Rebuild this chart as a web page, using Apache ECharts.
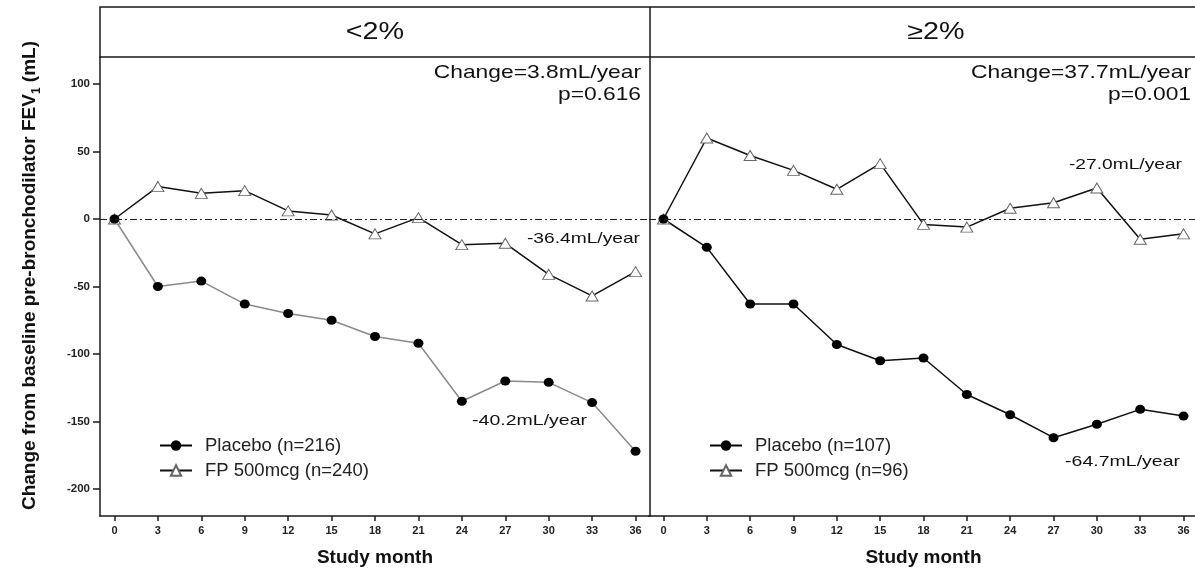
<!DOCTYPE html>
<html>
<head>
<meta charset="utf-8">
<script src="https://cdn.jsdelivr.net/npm/echarts@6/dist/echarts.min.js"></script>
<style>
html,body{margin:0;padding:0;background:#fff;}
#chart{width:1195px;height:568px;}
</style>
</head>
<body>
<div id="chart"></div>
<script>
const months = [0, 3, 6, 9, 12, 15, 18, 21, 24, 27, 30, 33, 36];
const xTicks = [0, 3, 6, 9, 12, 15, 18, 21, 24, 27, 30, 33, 36];
const yTicks = [-200, -150, -100, -50, 0, 50, 100];

const panelTitles = ['<2%', '\u22652%'];

const placeboLowName = 'Placebo (n=216)';
const fpLowName = 'FP 500mcg (n=240)';
const placeboHighName = 'Placebo (n=107)';
const fpHighName = 'FP 500mcg (n=96)';

const placeboLow = [0, -50, -46, -63, -70, -75, -87, -92, -135, -120, -121, -136, -172];
const fpLow = [0, 24, 19, 21, 6, 3, -11, 1, -19, -18, -41, -57, -39];
const placeboHigh = [0, -21, -63, -63, -93, -105, -103, -130, -145, -162, -152, -141, -146];
const fpHigh = [0, 60, 47, 36, 22, 41, -4, -6, 8, 12, 23, -15, -11];

const changeLow = ['Change=3.8mL/year', 'p=0.616'];
const changeHigh = ['Change=37.7mL/year', 'p=0.001'];
const slopeFpLow = '-36.4mL/year';
const slopePlaceboLow = '-40.2mL/year';
const slopeFpHigh = '-27.0mL/year';
const slopePlaceboHigh = '-64.7mL/year';

const FONT = 'Arial, "Liberation Sans", Helvetica, sans-serif';
const INK = '#1a1a1a';

function pairs(vals) { return months.map((m, i) => [m, vals[i]]); }

function xAxisDef(gridIndex) {
  return {
    type: 'value', gridIndex, min: -1, max: 37,
    splitLine: { show: false },
    axisLine: { show: true, onZero: false, lineStyle: { color: INK, width: 1.5 } },
    axisTick: { show: true, length: 5, customValues: xTicks, lineStyle: { color: INK, width: 1.5 } },
    axisLabel: { customValues: xTicks, margin: 9, fontSize: 11, fontWeight: 'bold', color: '#222', fontFamily: FONT },
    name: 'Study month', nameLocation: 'middle', nameGap: 32,
    nameTextStyle: { fontSize: 19, fontWeight: 'bold', color: '#111', fontFamily: FONT }
  };
}

const option = {
  animation: false,
  backgroundColor: '#fff',
  grid: [
    { left: 100, top: 57, width: 550, height: 459, containLabel: false, outerBoundsMode: 'none' },
    { left: 649, top: 57, width: 549, height: 459, containLabel: false, outerBoundsMode: 'none' }
  ],
  xAxis: [xAxisDef(0), xAxisDef(1)],
  yAxis: [
    {
      type: 'value', gridIndex: 0, min: -220, max: 120,
      splitLine: { show: false },
      axisLine: { show: true, onZero: false, lineStyle: { color: INK, width: 1.5 } },
      axisTick: { show: true, length: 7, customValues: yTicks, lineStyle: { color: INK, width: 1.5 } },
      axisLabel: { customValues: yTicks, margin: 10, fontSize: 11.5, fontWeight: 'bold', color: '#222', fontFamily: FONT },
      name: '{b|Change from baseline pre-bronchodilator FEV}{s|1}{b| (mL)}',
      nameLocation: 'middle', nameRotate: 90, nameGap: 61,
      nameTextStyle: {
        fontFamily: FONT, color: '#111', padding: [0, 0, 0, 22],
        rich: {
          b: { fontSize: 19, fontWeight: 'bold', fontFamily: FONT, color: '#111' },
          s: { fontSize: 12, fontWeight: 'bold', fontFamily: FONT, color: '#111', verticalAlign: 'bottom', padding: [0, 0, -4, 0] }
        }
      }
    },
    {
      type: 'value', gridIndex: 1, min: -220, max: 120, show: false,
      splitLine: { show: false }
    }
  ],
  legend: [
    {
      orient: 'vertical', left: 154, top: 431, itemWidth: 32, itemHeight: 13, itemGap: 6,
      textStyle: { fontSize: 18.5, color: '#222', fontFamily: FONT, padding: [0, 0, 0, 8] },
      data: [
        { name: placeboLowName, lineStyle: { color: '#000', width: 2 } },
        { name: fpLowName }
      ]
    },
    {
      orient: 'vertical', left: 704, top: 431, itemWidth: 32, itemHeight: 13, itemGap: 6,
      textStyle: { fontSize: 18.5, color: '#222', fontFamily: FONT, padding: [0, 0, 0, 8] },
      data: [
        { name: placeboHighName, lineStyle: { color: '#000', width: 2 } },
        { name: fpHighName }
      ]
    }
  ],
  series: [
    {
      name: fpLowName, type: 'line', xAxisIndex: 0, yAxisIndex: 0, data: pairs(fpLow),
      symbol: 'triangle', symbolSize: [12, 10],
      itemStyle: { color: '#fff', borderColor: '#666', borderWidth: 1 },
      lineStyle: { color: '#111', width: 1.5 },
      markLine: {
        silent: true, symbol: 'none', label: { show: false },
        lineStyle: { color: '#222', width: 1, type: [7, 3, 2, 3] },
        data: [{ yAxis: 0 }]
      }
    },
    {
      name: placeboLowName, type: 'line', xAxisIndex: 0, yAxisIndex: 0, data: pairs(placeboLow),
      symbol: 'circle', symbolSize: [10, 9],
      itemStyle: { color: '#000' },
      lineStyle: { color: '#8a8a8a', width: 1.5 }
    },
    {
      name: fpHighName, type: 'line', xAxisIndex: 1, yAxisIndex: 1, data: pairs(fpHigh),
      symbol: 'triangle', symbolSize: [12, 10],
      itemStyle: { color: '#fff', borderColor: '#666', borderWidth: 1 },
      lineStyle: { color: '#111', width: 1.5 },
      markLine: {
        silent: true, symbol: 'none', label: { show: false },
        lineStyle: { color: '#222', width: 1, type: [7, 3, 2, 3] },
        data: [{ yAxis: 0 }]
      }
    },
    {
      name: placeboHighName, type: 'line', xAxisIndex: 1, yAxisIndex: 1, data: pairs(placeboHigh),
      symbol: 'circle', symbolSize: [10, 9],
      itemStyle: { color: '#000' },
      lineStyle: { color: '#111', width: 1.5 }
    }
  ],
  graphic: [
    { type: 'rect', z: 10, shape: { x: 100, y: 7, width: 1110, height: 50 }, style: { fill: 'none', stroke: INK, lineWidth: 1.5 } },
    { type: 'line', z: 10, shape: { x1: 650, y1: 7, x2: 650, y2: 516 }, style: { stroke: INK, lineWidth: 1.5 } },
    { type: 'text', x: 375, y: 33, scaleX: 1.25, style: { text: panelTitles[0], fontSize: 23, fontFamily: FONT, fill: '#111', align: 'center', verticalAlign: 'middle' } },
    { type: 'text', x: 936, y: 33, scaleX: 1.25, style: { text: panelTitles[1], fontSize: 23, fontFamily: FONT, fill: '#111', align: 'center', verticalAlign: 'middle' } },
    { type: 'text', x: 641, y: 73, scaleX: 1.2, style: { text: changeLow[0], fontSize: 19, fontFamily: FONT, fill: '#111', align: 'right', verticalAlign: 'middle' } },
    { type: 'text', x: 641, y: 95, scaleX: 1.2, style: { text: changeLow[1], fontSize: 19, fontFamily: FONT, fill: '#111', align: 'right', verticalAlign: 'middle' } },
    { type: 'text', x: 1191, y: 73, scaleX: 1.2, style: { text: changeHigh[0], fontSize: 19, fontFamily: FONT, fill: '#111', align: 'right', verticalAlign: 'middle' } },
    { type: 'text', x: 1191, y: 95, scaleX: 1.2, style: { text: changeHigh[1], fontSize: 19, fontFamily: FONT, fill: '#111', align: 'right', verticalAlign: 'middle' } },
    { type: 'text', x: 640, y: 239, scaleX: 1.28, style: { text: slopeFpLow, fontSize: 15, fontFamily: FONT, fill: '#111', align: 'right', verticalAlign: 'middle' } },
    { type: 'text', x: 587, y: 421, scaleX: 1.3, style: { text: slopePlaceboLow, fontSize: 15, fontFamily: FONT, fill: '#111', align: 'right', verticalAlign: 'middle' } },
    { type: 'text', x: 1182, y: 165, scaleX: 1.28, style: { text: slopeFpHigh, fontSize: 15, fontFamily: FONT, fill: '#111', align: 'right', verticalAlign: 'middle' } },
    { type: 'text', x: 1180, y: 462, scaleX: 1.3, style: { text: slopePlaceboHigh, fontSize: 15, fontFamily: FONT, fill: '#111', align: 'right', verticalAlign: 'middle' } }
  ]
};

const chart = echarts.init(document.getElementById('chart'), null, { renderer: 'canvas' });
chart.setOption(option);
</script>
</body>
</html>
